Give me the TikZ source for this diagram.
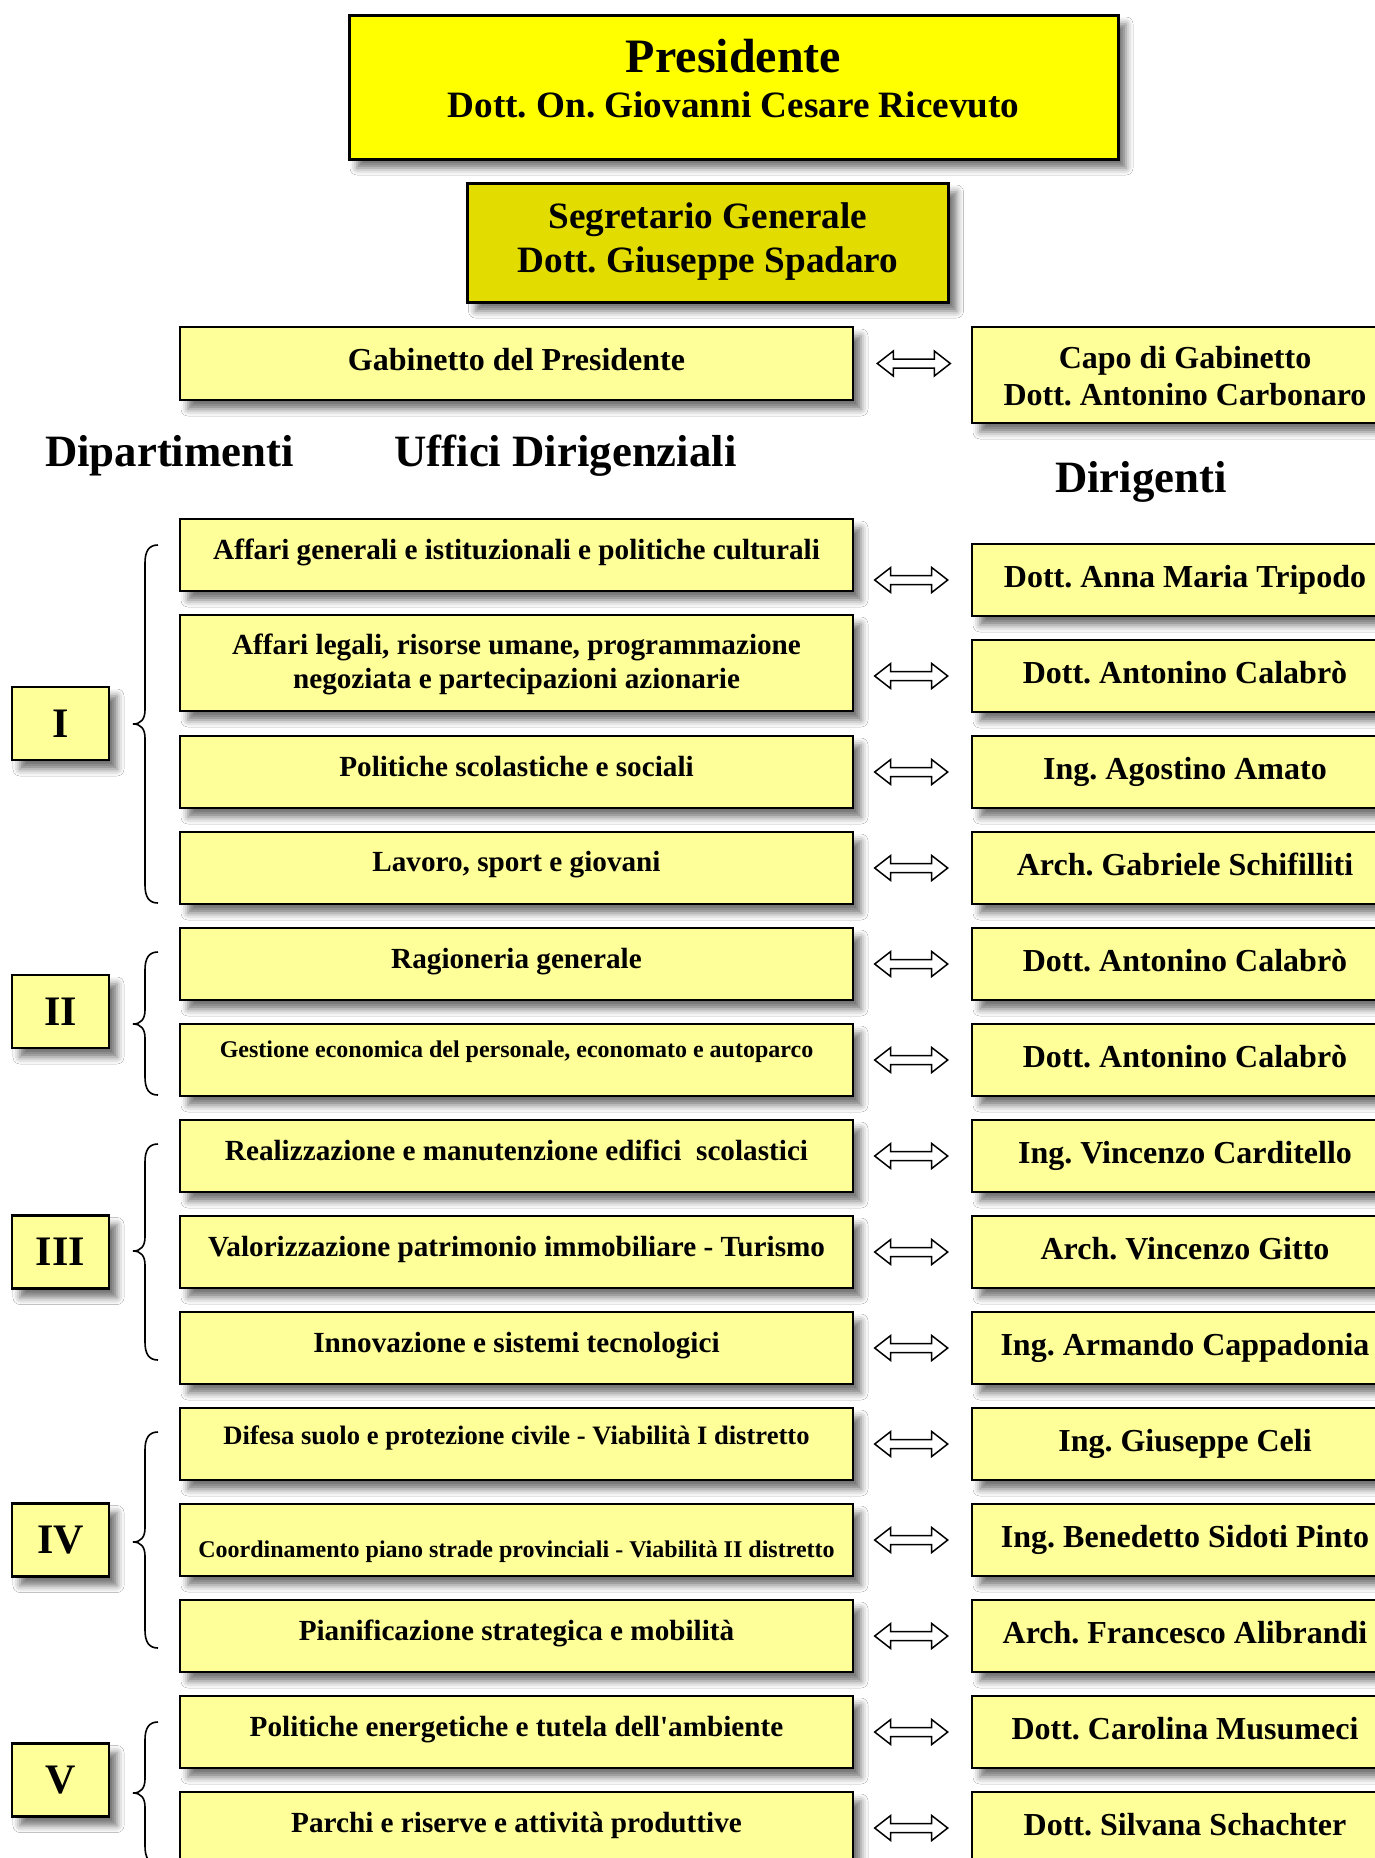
\documentclass[tikz,border=0pt]{standalone}
\usepackage{fontspec}
\setmainfont{Liberation Serif}
\usetikzlibrary{calc,shadows.blur}
\frenchspacing
\definecolor{pale}{RGB}{255,255,153}
\definecolor{presyel}{RGB}{255,255,0}
\definecolor{segyel}{RGB}{226,220,0}
\newcommand\mybrace[3]{%
  \draw[line width=0.8pt] (158,#1) .. controls (149,#1) and (145,#1+6) .. (145,#1+18)
    -- (145,#2-14) .. controls (145,#2-5) and (141,#2) .. (133,#2)
    .. controls (141,#2) and (145,#2+5) .. (145,#2+14)
    -- (145,#3-18) .. controls (145,#3-6) and (149,#3) .. (158,#3);}
\tikzset{
  shd/.style={blur shadow={shadow xshift=4pt,shadow yshift=-4.5pt,shadow blur radius=3.5pt,shadow opacity=55}},
  box/.style={draw=black, line width=1.3pt, fill=pale, inner sep=0pt, shd},
  lbox/.style={box, minimum width=336.5pt, minimum height=36pt},
  rbox/.style={box, minimum width=213pt, minimum height=36pt},
  rom/.style={box, minimum width=48.5pt, minimum height=36.5pt, font=\fontsize{21}{25}\selectfont\bfseries},
  ltxt/.style={anchor=base, inner sep=0pt, font=\fontsize{14.6}{17}\selectfont\bfseries},
  stxt/.style={anchor=base, inner sep=0pt, font=\fontsize{12}{14}\selectfont\bfseries},
  rtxt/.style={anchor=base, inner sep=0pt, font=\fontsize{16}{19}\selectfont\bfseries},
  btxt/.style={anchor=base, inner sep=0pt, font=\fontsize{18.6}{22}\selectfont\bfseries},
  head/.style={anchor=base, inner sep=0pt, font=\fontsize{22.4}{26}\selectfont\bfseries},
  dbl/.pic={\filldraw[fill=white, draw=black, line width=0.75pt]
    (-36.5,0) -- (-20.5,-12.5) -- (-20.5,-4.5) -- (20.5,-4.5) -- (20.5,-12.5) -- (36.5,0)
    -- (20.5,12.5) -- (20.5,4.5) -- (-20.5,4.5) -- (-20.5,12.5) -- cycle;}
}
\begin{document}
\begin{tikzpicture}[x=0.5pt,y=-0.5pt]
\clip (0,0) rectangle (1375,1858);
\fill[white] (0,0) rectangle (1375,1858);

% top
\node[box, fill=presyel, line width=1.5pt, minimum width=384.5pt, minimum height=72pt] (P) at (733.5,87) {};
\node[anchor=base, inner sep=0pt, font=\fontsize{24}{28}\selectfont\bfseries] (Pt1) at (733.5,72) {Presidente};
\node[btxt] (Pt2) at (733.5,117) {Dott. On. Giovanni Cesare Ricevuto};

\node[box, fill=segyel, line width=1.5pt, minimum width=240.5pt, minimum height=59.5pt] (S) at (708,242.5) {};
\node[btxt] (St1) at (708,228) {Segretario Generale};
\node[btxt] (St2) at (708,272) {Dott. Giuseppe Spadaro};

% gabinetto
\node[lbox, minimum height=36.5pt] (G) at (516.5,363.5) {};
\node[rtxt] (Gt) at (516.5,370) {Gabinetto del Presidente};
\node[rbox, minimum height=48pt] (C) at (1185,375) {};
\node[rtxt] (Ct1) at (1185,368) {Capo di Gabinetto};
\node[rtxt] (Ct2) at (1185,405) {Dott. Antonino Carbonaro};
\pic at ($(G.east)+(59.5,0)$) {dbl};

% headers
\node[head] (H1) at (169.5,466) {Dipartimenti};
\node[head] (H2) at (565.5,466) {Uffici Dirigenziali};
\node[head] (H3) at (1141,492) {Dirigenti};

% left boxes
\node[lbox] (L1) at (516.5,555) {};
\node[lbox, minimum height=48pt] (L2) at (516.5,663) {};
\foreach \k in {3,...,14}{
  \node[lbox] (L\k) at (516.5,{772+(\k-3)*96}) {};
}
% right boxes and arrows
\foreach \k in {1,...,14}{
  \node[rbox] (R\k) at (1185,{580+(\k-1)*96}) {};
  \pic at ($(R\k.west)+(-59.5,0)$) {dbl};
}

% left texts
\node[ltxt] (l1) at ($(L1.south)+(0,-33)$) {Affari generali e istituzionali e politiche culturali};
\node[ltxt] (l2a) at ($(L2.south)+(0,-58)$) {Affari legali, risorse umane, programmazione};
\node[ltxt] (l2b) at ($(L2.south)+(0,-24)$) {negoziata e partecipazioni azionarie};
\node[ltxt] (l3) at ($(L3.south)+(0,-33)$) {Politiche scolastiche e sociali};
\node[ltxt] (l4) at ($(L4.south)+(0,-34)$) {Lavoro, sport e giovani};
\node[ltxt] (l5) at ($(L5.south)+(0,-33)$) {Ragioneria generale};
\node[stxt] (l6) at ($(L6.south)+(0,-40)$) {Gestione economica del personale, economato e autoparco};
\node[ltxt] (l7) at ($(L7.south)+(0,-33)$) {Realizzazione e manutenzione edifici\ \ scolastici};
\node[ltxt] (l8) at ($(L8.south)+(0,-33)$) {Valorizzazione patrimonio immobiliare - Turismo};
\node[ltxt] (l9) at ($(L9.south)+(0,-33)$) {Innovazione e sistemi tecnologici};
\node[ltxt, font=\fontsize{13.3}{16}\selectfont\bfseries] (l10) at ($(L10.south)+(0,-37)$) {Difesa suolo e protezione civile - Viabilità I distretto};
\node[stxt] (l11) at ($(L11.south)+(0,-20)$) {Coordinamento piano strade provinciali - Viabilità II distretto};
\node[ltxt] (l12) at ($(L12.south)+(0,-33)$) {Pianificazione strategica e mobilità};
\node[ltxt] (l13) at ($(L13.south)+(0,-33)$) {Politiche energetiche e tutela dell\textquotesingle ambiente};
\node[ltxt] (l14) at ($(L14.south)+(0,-33)$) {Parchi e riserve e attività produttive};

% right texts
\node[rtxt] (r1) at ($(R1.south)+(0,-30)$) {Dott. Anna Maria Tripodo};
\node[rtxt] (r2) at ($(R2.south)+(0,-30)$) {Dott. Antonino Calabrò};
\node[rtxt] (r3) at ($(R3.south)+(0,-30)$) {Ing. Agostino Amato};
\node[rtxt] (r4) at ($(R4.south)+(0,-30)$) {Arch. Gabriele Schifilliti};
\node[rtxt] (r5) at ($(R5.south)+(0,-30)$) {Dott. Antonino Calabrò};
\node[rtxt] (r6) at ($(R6.south)+(0,-30)$) {Dott. Antonino Calabrò};
\node[rtxt] (r7) at ($(R7.south)+(0,-30)$) {Ing. Vincenzo Carditello};
\node[rtxt] (r8) at ($(R8.south)+(0,-30)$) {Arch. Vincenzo Gitto};
\node[rtxt] (r9) at ($(R9.south)+(0,-30)$) {Ing. Armando Cappadonia};
\node[rtxt] (r10) at ($(R10.south)+(0,-30)$) {Ing. Giuseppe Celi};
\node[rtxt] (r11) at ($(R11.south)+(0,-30)$) {Ing. Benedetto Sidoti Pinto};
\node[rtxt] (r12) at ($(R12.south)+(0,-30)$) {Arch. Francesco Alibrandi};
\node[rtxt] (r13) at ($(R13.south)+(0,-30)$) {Dott. Carolina Musumeci};
\node[rtxt] (r14) at ($(R14.south)+(0,-30)$) {Dott. Silvana Schachter};

% departments
\node[rom] (D1) at (60.5,723.5) {I};
\node[rom] (D2) at (60.5,1011.5) {II};
\node[rom] (D3) at (60.5,1252) {III};
\node[rom] (D4) at (60.5,1540) {IV};
\node[rom] (D5) at (60.5,1780) {V};

\mybrace{545}{724}{903}
\mybrace{952}{1024}{1095}
\mybrace{1144}{1251}{1360}
\mybrace{1432}{1542}{1648}
\mybrace{1722}{1793}{1864}
\end{tikzpicture}
\end{document}
